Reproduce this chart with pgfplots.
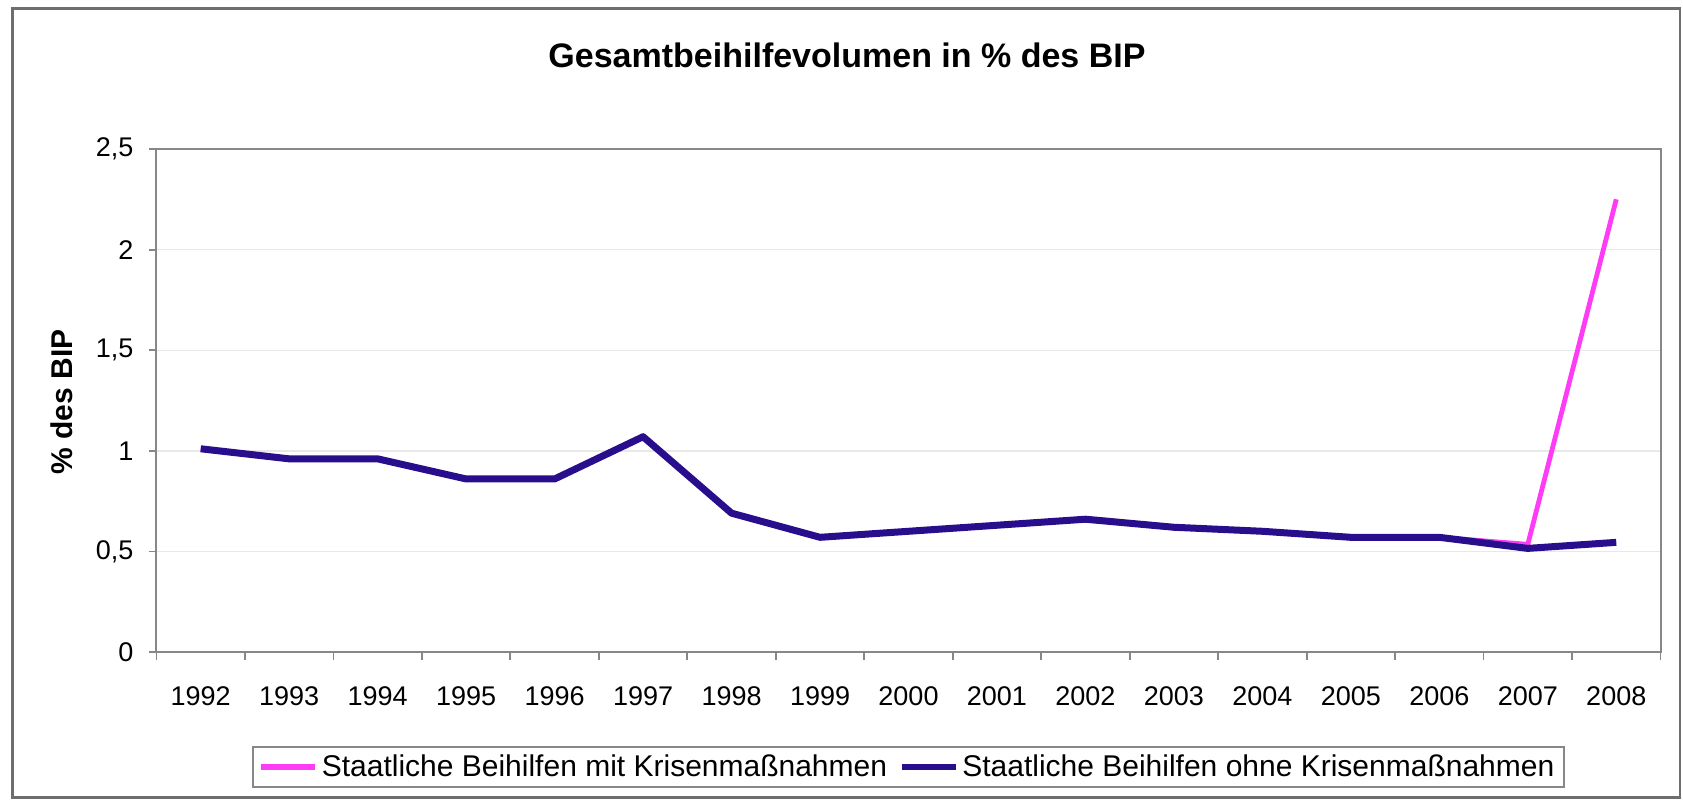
\documentclass[border=0pt]{standalone}
\usepackage{pgfplots}
\pgfplotsset{compat=1.18}
\usepackage{pgfplotstable}
\usepackage{fontspec}
\setmainfont{Liberation Sans}
\definecolor{pinkline}{RGB}{255,60,245}
\definecolor{blueline}{RGB}{40,14,140}
\definecolor{axisgray}{RGB}{135,135,135}
\definecolor{gridgray}{RGB}{232,232,232}
\definecolor{framegray}{RGB}{110,110,110}

\pgfplotstableread{
idx mit ohne
0 1.01 1.01
1 0.96 0.96
2 0.96 0.96
3 0.86 0.86
4 0.86 0.86
5 1.07 1.07
6 0.69 0.69
7 0.57 0.57
8 0.60 0.60
9 0.63 0.63
10 0.66 0.66
11 0.62 0.62
12 0.60 0.60
13 0.57 0.57
14 0.57 0.57
15 0.535 0.515
16 2.25 0.545
}\datatable

\begin{document}
\begin{tikzpicture}
\useasboundingbox (0,0) rectangle (841.5pt,400pt);
\draw[framegray, line width=1.3pt] (6.3pt,1.2pt) rectangle (840pt,395.8pt);
\begin{axis}[
  at={(78.25pt,74pt)}, anchor=south west,
  scale only axis, width=752pt, height=251.5pt,
  xmin=-0.5, xmax=16.5, ymin=0, ymax=2.5,
  xtick={0,...,16},
  xticklabels={1992,1993,1994,1995,1996,1997,1998,1999,2000,2001,2002,2003,2004,2005,2006,2007,2008},
  minor xtick={-0.5,0.5,...,16.5},
  ytick={0,0.5,1,1.5,2,2.5},
  /pgf/number format/assume math mode=true,
  /pgf/number format/use comma,
  yticklabel style={/pgf/number format/fixed},
  tick align=outside,
  major x tick style={draw=none},
  major tick length=4pt, minor tick length=4pt,
  xtick pos=lower, ytick pos=left,
  tick style={axisgray, line width=0.9pt},
  ymajorgrids, grid style={gridgray, line width=0.7pt},
  axis line style={axisgray, line width=1pt},
  tick label style={font=\fontsize{13.5pt}{16pt}\selectfont},
  xticklabel style={yshift=-10pt},
  yticklabel style={xshift=-4pt},
  legend columns=2,
  legend style={at={(0.5,0)}, anchor=center, yshift=-57.5pt,
    draw=axisgray, line width=1pt,
    font=\fontsize{15pt}{18pt}\selectfont,
    inner xsep=3pt, inner ysep=2pt,
    /tikz/every even column/.append style={column sep=4pt}},
  legend cell align=left,
  legend image code/.code={\draw[#1, line width=2.6pt] (0pt,0pt) -- (27pt,0pt);},
]
\addplot[pinkline, line width=2.4pt, line join=round] table[x=idx, y=mit] {\datatable};
\addlegendentry{Staatliche Beihilfen mit Krisenmaßnahmen}
\addplot[blueline, line width=3.5pt, line join=round] table[x=idx, y=ohne] {\datatable};
\addlegendentry{Staatliche Beihilfen ohne Krisenmaßnahmen}
\end{axis}
\node[anchor=base, font=\bfseries\fontsize{17pt}{20pt}\selectfont] at (423.5pt,366pt) {Gesamtbeihilfevolumen in \% des BIP};
\node[rotate=90, anchor=center, font=\bfseries\fontsize{15pt}{18pt}\selectfont] at (31pt,199pt) {\% des BIP};
\end{tikzpicture}
\end{document}
